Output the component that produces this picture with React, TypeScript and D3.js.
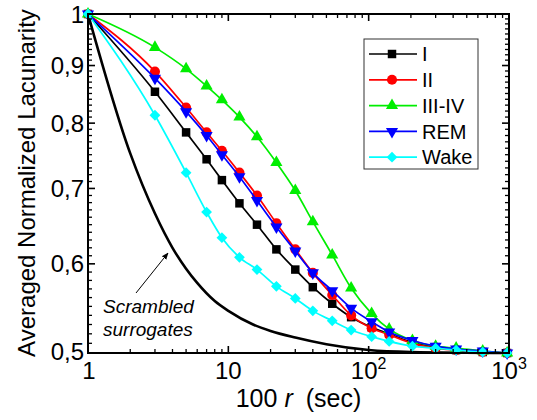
import React from 'react';
import * as d3 from 'd3';

const W = 537;
const H = 420;

// time scales (100 r, sec) shared by the sleep-stage series
const rValues = [1, 3, 5, 7, 9, 12, 16, 22, 30, 40, 55, 75, 105, 140, 205, 300, 420, 650, 970];
const stageI = [1, 0.853, 0.785, 0.743, 0.712, 0.679, 0.65, 0.618, 0.593, 0.572, 0.553, 0.538, 0.527, 0.52, 0.511, 0.506, 0.503, 0.501, 0.5];
const stageII = [1, 0.889, 0.826, 0.785, 0.756, 0.723, 0.69, 0.652, 0.618, 0.589, 0.563, 0.54, 0.526, 0.519, 0.51, 0.505, 0.503, 0.501, 0.5];
const stageIIIIV = [1, 0.934, 0.894, 0.863, 0.839, 0.81, 0.778, 0.738, 0.697, 0.654, 0.611, 0.571, 0.542, 0.525, 0.513, 0.507, 0.505, 0.502, 0.5];
const stageREM = [1, 0.877, 0.819, 0.78, 0.75, 0.717, 0.683, 0.647, 0.616, 0.589, 0.568, 0.548, 0.533, 0.522, 0.513, 0.507, 0.504, 0.502, 0.5];
const stageWake = [1, 0.813, 0.723, 0.667, 0.633, 0.608, 0.593, 0.573, 0.559, 0.545, 0.534, 0.524, 0.517, 0.512, 0.507, 0.505, 0.503, 0.501, 0.5];

const scrambledR = [1, 2, 3, 4, 5, 6, 8, 10, 15, 20, 30, 50, 100, 200, 1000];
const scrambledL = [1, 0.752, 0.665, 0.62, 0.594, 0.577, 0.556, 0.545, 0.53, 0.523, 0.516, 0.509, 0.503, 0.501, 0.5];

const seriesNames = ['I', 'II', 'III-IV', 'REM', 'Wake'];
const seriesValues = [stageI, stageII, stageIIIIV, stageREM, stageWake];
const seriesColors = ['#000000', '#ff0000', '#00ee00', '#0000ff', '#00ffff'];
const seriesMarkers = ['square', 'circle', 'triangleUp', 'triangleDown', 'diamond'];

const yTicks = [0.5, 0.6, 0.7, 0.8, 0.9, 1];
const yTickLabels = ['0,5', '0,6', '0,7', '0,8', '0,9', '1'];
const xTicks = [1, 10, 100, 1000];
const xTickBase = ['1', '10', '10', '10'];
const xTickExp = ['', '', '2', '3'];

const FONT = '"Liberation Sans", Arial, Helvetica, sans-serif';

const x = d3.scaleLog().domain([1, 1000]).range([88, 509]);
const y = d3.scaleLog().domain([0.5, 1]).range([353, 14]);

function markerPath(kind: string): string {
  const s = d3.symbol();
  switch (kind) {
    case 'square':
      return s.type(d3.symbolSquare).size(72)() as string;
    case 'circle':
      return s.type(d3.symbolCircle).size(80)() as string;
    case 'triangleUp':
    case 'triangleDown':
      return s.type(d3.symbolTriangle).size(64)() as string;
    case 'diamond':
      return s.type(d3.symbolSquare).size(58)() as string;
  }
  return '';
}

function markerRotation(kind: string): number {
  if (kind === 'triangleDown') return 180;
  if (kind === 'diamond') return 45;
  return 0;
}

export default function App() {
  const line = d3
    .line<[number, number]>()
    .x((d) => x(d[0]))
    .y((d) => y(d[1]))
    .curve(d3.curveMonotoneX);

  const x0 = 88, x1 = 509, y0 = 353, y1 = 14;

  const xMinor: number[] = [];
  [1, 10, 100].forEach((dec) => {
    for (let k = 2; k <= 9; k++) xMinor.push(dec * k);
  });
  const yMinor: number[] = d3.range(51, 100).filter((v) => v % 10 !== 0).map((v) => v / 100);

  const scrambledPts: [number, number][] = scrambledR.map((r, i) => [r, scrambledL[i]]);

  const legendX = 364, legendY = 39, legendW = 114, legendH = 130;
  const legendRowY = (i: number) => 54 + i * 25.8;

  return (
    <svg
      width={W}
      height={H}
      style={{ position: 'absolute', left: 0, top: 0, background: '#fff' }}
      fontFamily={FONT}
    >
      <defs>
        <marker id="arrow" viewBox="0 0 10 10" refX="9" refY="5" markerWidth="7" markerHeight="7" orient="auto">
          <path d="M0,1 L10,5 L0,9 Z" fill="#000" />
        </marker>
      </defs>

      {/* scrambled surrogates */}
      <path d={line(scrambledPts) || ''} fill="none" stroke="#000" strokeWidth={2.6} />

      {/* series */}
      {seriesValues.map((vals, si) => {
        const pts: [number, number][] = rValues.map((r, i) => [r, vals[i]]);
        return (
          <g key={seriesNames[si]}>
            <path d={line(pts) || ''} fill="none" stroke={seriesColors[si]} strokeWidth={1.7} />
            {pts.map((p, i) => (
              <path
                key={i}
                d={markerPath(seriesMarkers[si])}
                transform={`translate(${x(p[0])},${y(p[1])}) rotate(${markerRotation(seriesMarkers[si])})`}
                fill={seriesColors[si]}
              />
            ))}
          </g>
        );
      })}

      {/* frame */}
      <rect x={x0} y={y1} width={x1 - x0} height={y0 - y1} fill="none" stroke="#000" strokeWidth={2} />

      {/* x ticks */}
      {xTicks.map((t) => (
        <g key={'xt' + t}>
          <line x1={x(t)} x2={x(t)} y1={y0} y2={y0 - 7} stroke="#000" strokeWidth={1.6} />
          <line x1={x(t)} x2={x(t)} y1={y1} y2={y1 + 7} stroke="#000" strokeWidth={1.6} />
        </g>
      ))}
      {xMinor.map((t) => (
        <g key={'xm' + t}>
          <line x1={x(t)} x2={x(t)} y1={y0} y2={y0 - 4} stroke="#000" strokeWidth={1.3} />
          <line x1={x(t)} x2={x(t)} y1={y1} y2={y1 + 4} stroke="#000" strokeWidth={1.3} />
        </g>
      ))}
      {/* y ticks */}
      {yTicks.map((t) => (
        <g key={'yt' + t}>
          <line x1={x0} x2={x0 + 7} y1={y(t)} y2={y(t)} stroke="#000" strokeWidth={1.6} />
          <line x1={x1} x2={x1 - 7} y1={y(t)} y2={y(t)} stroke="#000" strokeWidth={1.6} />
        </g>
      ))}
      {yMinor.map((t) => (
        <g key={'ym' + t}>
          <line x1={x0} x2={x0 + 4} y1={y(t)} y2={y(t)} stroke="#000" strokeWidth={1.3} />
          <line x1={x1} x2={x1 - 4} y1={y(t)} y2={y(t)} stroke="#000" strokeWidth={1.3} />
        </g>
      ))}

      {/* y tick labels */}
      {yTicks.map((t, i) => (
        <text key={'yl' + t} x={84} y={t === 0.5 ? y(t) - 2 : y(t)} dy="0.36em" textAnchor="end" fontSize={24}>
          {yTickLabels[i]}
        </text>
      ))}

      {/* x tick labels */}
      {xTicks.map((t, i) => (
        <text key={'xl' + t} x={t === 1 ? x(t) + 1 : x(t)} y={379} textAnchor="middle" fontSize={24}>
          {xTickBase[i]}
          {xTickExp[i] && (
            <tspan fontSize={16} dy={-10}>
              {xTickExp[i]}
            </tspan>
          )}
        </text>
      ))}

      {/* axis titles */}
      <text x={298.5} y={407} textAnchor="middle" fontSize={25}>
        100 <tspan fontStyle="italic">r</tspan>
        <tspan dx={13}>(sec)</tspan>
      </text>
      <text transform="translate(35,183) rotate(-90)" textAnchor="middle" fontSize={24}>
        Averaged Normalized Lacunarity
      </text>

      {/* annotation */}
      <line x1={136} y1={293} x2={168} y2={253} stroke="#000" strokeWidth={1} markerEnd="url(#arrow)" />
      <text x={103} y={313} fontSize={19} fontStyle="italic">Scrambled</text>
      <text x={103} y={336} fontSize={19} fontStyle="italic">surrogates</text>

      {/* legend */}
      <rect x={legendX} y={legendY} width={legendW} height={legendH} fill="#fff" stroke="#333" strokeWidth={1} />
      {seriesNames.map((name, i) => (
        <g key={'lg' + name}>
          <line x1={369} x2={417} y1={legendRowY(i)} y2={legendRowY(i)} stroke={seriesColors[i]} strokeWidth={1.7} />
          <path
            d={markerPath(seriesMarkers[i])}
            transform={`translate(392,${legendRowY(i)}) rotate(${markerRotation(seriesMarkers[i])})`}
            fill={seriesColors[i]}
          />
          <text x={422} y={legendRowY(i)} dy="0.36em" fontSize={20}>
            {name}
          </text>
        </g>
      ))}
    </svg>
  );
}
